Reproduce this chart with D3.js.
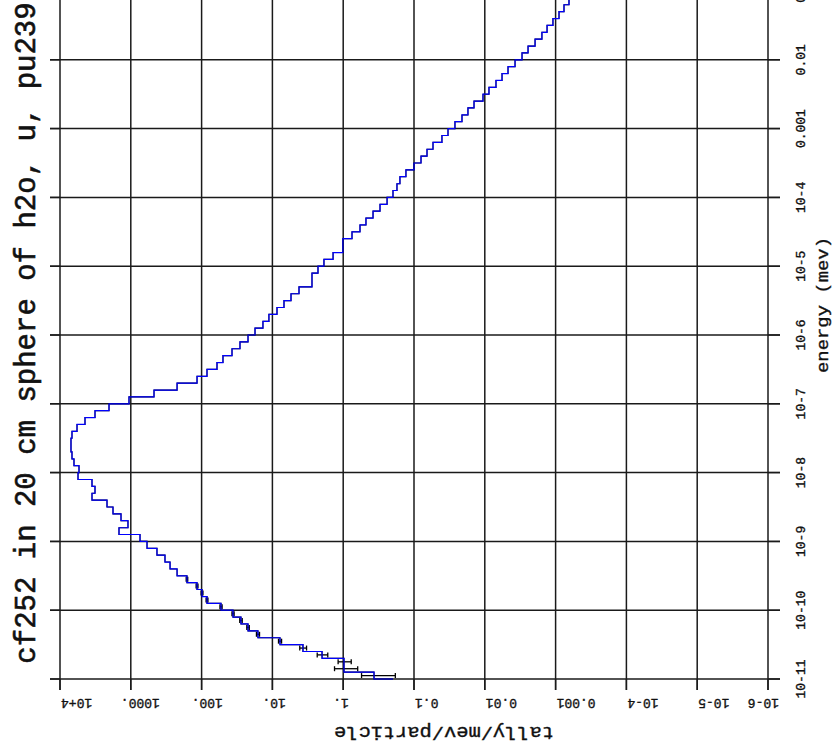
<!DOCTYPE html>
<html>
<head>
<meta charset="utf-8">
<script src="https://cdn.jsdelivr.net/npm/d3@7/dist/d3.min.js"></script>
<style>
  html, body { margin: 0; padding: 0; background: #fff; }
  svg { display: block; }
  text { font-family: "Liberation Mono", "DejaVu Sans Mono", monospace; fill: #111; stroke: #111; stroke-width: 0.35px; }
</style>
</head>
<body>
<svg id="chart" width="833" height="752"></svg>
<script>
// ---- data ----
const title = "cf252 in 20 cm sphere of h2o, u, pu239";
const xTitle = "tally/mev/particle";
const yTitle = "energy (mev)";

// energy bin edges: 10 bins per decade
const binMantissas = [1, 1.26, 1.58, 2.0, 2.51, 3.16, 3.98, 5.01, 6.31, 7.94];
const binDecades = [-11, -10, -9, -8, -7, -6, -5, -4, -3, -2];
const topEdge = 0.1;

// tally/mev/particle for each bin (lowest energy first)
const tallies = [
  0.367, 0.975, 0.975, 1.99, 3.70, 7.81, 16.0, 22.1, 27.8, 36.0,
  53.2, 83.9, 98.7, 116, 161, 222, 279, 329, 427, 590,
  741, 1468, 1096, 1375, 1784, 2168, 3532, 3204, 3532, 5566,
  5390, 6345, 6770, 6995, 6995, 6770, 5750, 4435, 3204, 2031,
  1060, 470, 222, 116, 83.9, 60.6, 49.9, 37.2, 28.7, 22.1,
  17.6, 13.6, 11.2, 8.61, 6.86, 5.46, 4.21, 2.76, 2.76, 2.27,
  1.87, 1.39, 1.01, 1.01, 0.751, 0.579, 0.477, 0.379, 0.302, 0.240,
  0.198, 0.174, 0.158, 0.130, 0.100, 0.0796, 0.0655, 0.0539, 0.0403, 0.0331,
  0.0264, 0.0210, 0.0173, 0.0142, 0.0106, 0.00873, 0.00695, 0.00571, 0.00470, 0.00374,
  0.00298, 0.00245, 0.00195, 0.00156, 0.00132, 0.00109, 0.000895, 0.000761, 0.000647, 0.000532
];
// tally just below the lowest plotted energy (drawn only as the entry step)
const belowRangeTally = 0.198;
// relative errors for the first bins (rest negligible)
const relErrors = [0.50, 0.36, 0.21, 0.17, 0.11, 0.05, 0.05, 0.04, 0.04, 0.035, 0.035, 0.03, 0.03, 0.03, 0.025];

const tallyTicks = [1e4, 1e3, 1e2, 1e1, 1, 0.1, 0.01, 0.001, 1e-4, 1e-5, 1e-6];
const tallyLabels = ["10+4", "1000.", "100.", "10.", "1.", "0.1", "0.01", "0.001", "10-4", "10-5", "10-6"];
const energyTicks = [1e-11, 1e-10, 1e-9, 1e-8, 1e-7, 1e-6, 1e-5, 1e-4, 1e-3, 1e-2, 1e-1];
const energyLabels = ["10-11", "10-10", "10-9", "10-8", "10-7", "10-6", "10-5", "10-4", "0.001", "0.01", "0.1"];

// ---- build edges table ----
const edges = [];
binDecades.forEach(d => binMantissas.forEach(m => edges.push(m * Math.pow(10, d))));
edges.push(topEdge);

// ---- scales ----
const svg = d3.select("#chart");
svg.append("rect").attr("width", 833).attr("height", 752).attr("fill", "#fff");

const xs = d3.scaleLog().domain([1e4, 1e-6]).range([60, 768]);
const ys = d3.scaleLog().domain([1e-11, 0.1]).range([679, -9]);

const gridColor = "#1a1a1a";
const g = svg.append("g");

// grid: tally decades (vertical lines)
g.selectAll("line.vx").data(tallyTicks).join("line")
  .attr("x1", d => xs(d)).attr("x2", d => xs(d))
  .attr("y1", -10).attr("y2", 690)
  .attr("stroke", gridColor).attr("stroke-width", 1.5);

// grid: energy decades (horizontal lines)
g.selectAll("line.hy").data(energyTicks).join("line")
  .attr("x1", 50).attr("x2", 780)
  .attr("y1", d => ys(d)).attr("y2", d => ys(d))
  .attr("stroke", gridColor).attr("stroke-width", 1.5);

// minor ticks energy (left & right)
const eMinor = ys.ticks().filter(v => v >= 1e-11 && v <= 0.2);
g.selectAll("line.eml").data(eMinor).join("line")
  .attr("x1", 50).attr("x2", 60)
  .attr("y1", d => ys(d)).attr("y2", d => ys(d))
  .attr("stroke", gridColor).attr("stroke-width", 1.4);
g.selectAll("line.emr").data(eMinor).join("line")
  .attr("x1", 768).attr("x2", 780)
  .attr("y1", d => ys(d)).attr("y2", d => ys(d))
  .attr("stroke", gridColor).attr("stroke-width", 1.4);

// minor ticks tally (bottom)
const tMinor = xs.ticks().filter(v => v <= 1e4 && v >= 1e-6);
g.selectAll("line.tm").data(tMinor).join("line")
  .attr("x1", d => xs(d)).attr("x2", d => xs(d))
  .attr("y1", 679).attr("y2", 690)
  .attr("stroke", gridColor).attr("stroke-width", 1.4);

// ---- histogram ----
const pts = [[xs(belowRangeTally), ys(edges[0])]];
tallies.forEach((t, k) => {
  pts.push([xs(t), ys(edges[k])]);
  pts.push([xs(t), ys(edges[k + 1])]);
});
const line = d3.line();

// error bars
const eb = svg.append("g").attr("stroke", "#000").attr("stroke-width", 1.3).attr("fill", "none");
relErrors.forEach((e, k) => {
  const t = tallies[k];
  const yc = ys(Math.sqrt(edges[k] * edges[k + 1]));
  const xa = xs(t * (1 + e)), xb = xs(t * (1 - e));
  eb.append("line").attr("x1", xa).attr("x2", xb).attr("y1", yc).attr("y2", yc);
  eb.append("line").attr("x1", xa).attr("x2", xa).attr("y1", yc - 2.5).attr("y2", yc + 2.5);
  eb.append("line").attr("x1", xb).attr("x2", xb).attr("y1", yc - 2.5).attr("y2", yc + 2.5);
});

svg.append("path").attr("d", line(pts))
  .attr("fill", "none").attr("stroke", "#000").attr("stroke-width", 1.1);
svg.append("path").attr("d", line(pts))
  .attr("fill", "none").attr("stroke", "#0000ff").attr("stroke-width", 1.2);

// ---- labels ----
const charW = 7.8;
tallyLabels.forEach((lab, i) => {
  let left = xs(tallyTicks[i]) + 1 - (lab.endsWith(".") ? 11 : 0);
  const w = lab.length * charW;
  if (left + w > 779) left = 779 - w;
  svg.append("text")
    .attr("transform", `translate(${left},699) rotate(180)`)
    .attr("text-anchor", "end")
    .attr("font-size", 13)
    .text(lab);
});

energyLabels.forEach((lab, i) => {
  svg.append("text")
    .attr("transform", `translate(805,${ys(energyTicks[i])}) rotate(-90)`)
    .attr("text-anchor", "middle")
    .attr("font-size", 13)
    .text(lab);
});

svg.append("text")
  .attr("transform", "translate(444,727) rotate(180)")
  .attr("text-anchor", "middle")
  .attr("font-size", 18)
  .attr("textLength", 220).attr("lengthAdjust", "spacingAndGlyphs")
  .text(xTitle);

svg.append("text")
  .attr("transform", "translate(828,305) rotate(-90)")
  .attr("text-anchor", "middle")
  .attr("font-size", 17)
  .attr("textLength", 136).attr("lengthAdjust", "spacingAndGlyphs")
  .text(yTitle);

svg.append("text")
  .attr("transform", "translate(35,333) rotate(-90)")
  .attr("text-anchor", "middle")
  .attr("font-size", 29)
  .style("stroke-width", "0.6px")
  .text(title);
</script>
</body>
</html>
